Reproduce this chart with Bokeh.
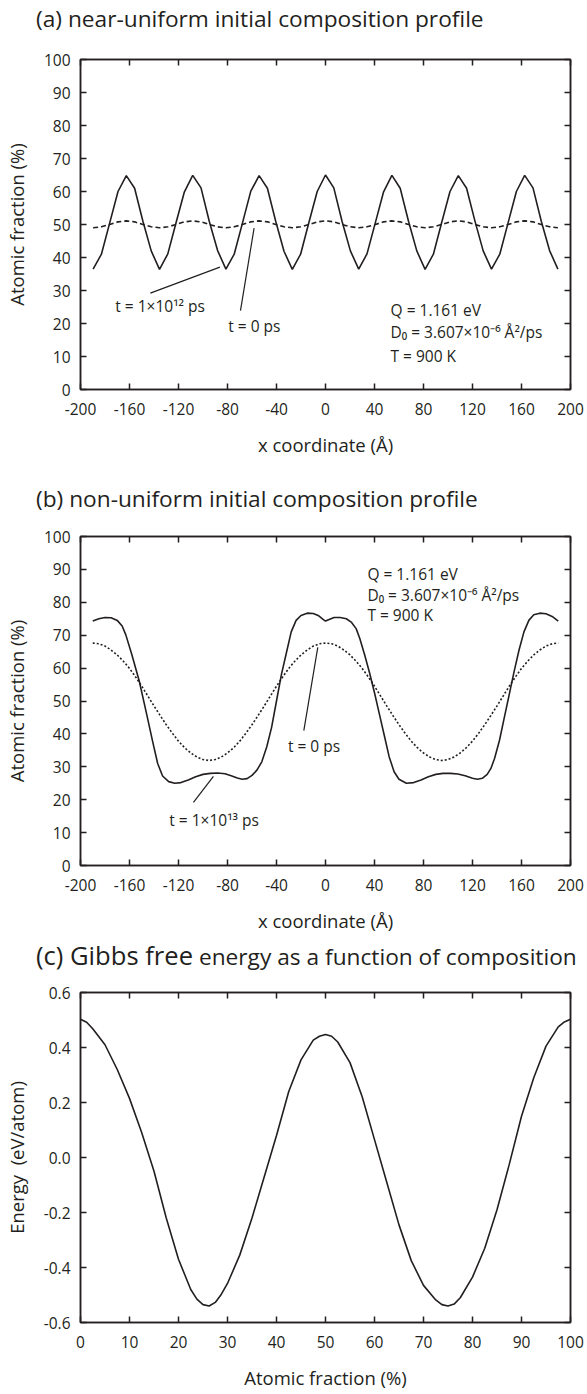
import numpy as np
from bokeh.plotting import figure
from bokeh.layouts import column
from bokeh.models import FixedTicker, LinearAxis, Label, PrintfTickFormatter, Range1d, Div
from bokeh.embed import file_html
from bokeh.resources import INLINE

INK = "#231f20"
FONT = "Open Sans"
W = 587

# ---------------- (a) near-uniform initial composition profile ----------------
x_a = np.linspace(-189.7, 189.7, 57)            # position grid (Å)
comp_a_late = [                                    # t = 1e12 ps (%)
    36.5, 41.0, 50.5, 60.0, 64.8, 61.0, 51.0, 42.0,
    36.4, 41.1, 50.6, 59.9, 64.9, 61.1, 50.9, 42.1,
    36.5, 41.0, 50.5, 60.1, 64.8, 61.0, 51.0, 41.9,
    36.4, 41.0, 50.6, 60.0, 65.0, 61.1, 50.9, 42.0,
    36.5, 41.1, 50.5, 59.9, 64.9, 61.0, 51.0, 42.0,
    36.4, 41.0, 50.6, 60.0, 64.8, 61.0, 51.1, 42.0,
    36.5, 41.0, 50.5, 60.0, 64.9, 61.1, 51.0, 42.1,
    36.5,
]
comp_a_init = [                                    # t = 0 ps (%)
    49.0, 49.3, 50.0, 50.8, 51.1, 50.8, 50.0, 49.3,
    49.0, 49.3, 50.0, 50.8, 51.1, 50.8, 50.0, 49.3,
    49.0, 49.3, 50.0, 50.8, 51.1, 50.8, 50.0, 49.3,
    49.0, 49.3, 50.0, 50.8, 51.1, 50.8, 50.0, 49.3,
    49.0, 49.3, 50.0, 50.8, 51.1, 50.8, 50.0, 49.3,
    49.0, 49.3, 50.0, 50.8, 51.1, 50.8, 50.0, 49.3,
    49.0, 49.3, 50.0, 50.8, 51.1, 50.8, 50.0, 49.3,
    49.0,
]

# ---------------- (b) non-uniform initial composition profile ----------------
x_b_late = [-190, -185, -180, -175, -170, -166, -163, -158, -152, -146,
            -141, -137, -133, -128, -123, -118, -112, -106, -100, -94,
            -88, -82, -77, -72, -68, -64, -60, -56, -52, -48,
            -44, -40, -36, -32, -28, -24, -20, -15, -10, -6,
            -2, 0, 3, 7, 12, 17, 21, 25, 28, 32,
            36, 40, 44, 48, 52, 56, 60, 66, 72, 78,
            84, 90, 96, 102, 108, 114, 120, 124, 128, 132,
            135, 138, 142, 146, 150, 154, 158, 162, 166, 170,
            175, 180, 185, 190]
comp_b_late = [74.3, 75.0, 75.4, 75.3, 74.5, 72.8, 70.1, 64.0, 56.0, 46.0,
               37.5, 31.0, 27.2, 25.5, 25.0, 25.2, 26.0, 27.0, 27.7, 28.0,
               28.1, 27.9, 27.3, 26.6, 26.2, 26.4, 27.4, 29.0, 31.5, 36.0,
               42.0, 50.0, 58.0, 64.5, 71.0, 74.5, 76.0, 76.7, 76.6, 76.0,
               74.8, 74.3, 74.8, 75.4, 75.4, 75.0, 74.0, 72.0, 69.0, 64.0,
               58.5, 52.5, 46.0, 39.5, 33.0, 28.5, 26.2, 25.0, 25.2, 26.0,
               27.0, 27.7, 28.0, 28.0, 27.8, 27.3, 26.5, 26.2, 26.5, 27.7,
               29.5, 32.5, 38.0, 45.0, 52.0, 59.0, 65.5, 71.0, 74.5, 76.2,
               76.7, 76.5, 75.7, 74.3]
x_b_init = list(range(-190, 191, 5))
comp_b_init = [67.6, 67.4, 66.7, 65.5, 64.0, 62.1, 59.9, 57.3, 54.5, 51.5,
               48.5, 45.6, 42.8, 40.2, 37.8, 35.8, 34.2, 33.0, 32.2, 31.9,
               32.2, 33.0, 34.2, 35.8, 37.8, 40.2, 42.8, 45.6, 48.5, 51.5,
               54.5, 57.3, 59.9, 62.1, 64.0, 65.5, 66.7, 67.4, 67.6, 67.4,
               66.7, 65.5, 64.0, 62.1, 59.9, 57.3, 54.5, 51.5, 48.5, 45.6,
               42.8, 40.2, 37.8, 35.8, 34.2, 33.0, 32.2, 31.9, 32.2, 33.0,
               34.2, 35.8, 37.8, 40.2, 42.8, 45.6, 48.5, 51.5, 54.5, 57.3,
               59.9, 62.1, 64.0, 65.5, 66.7, 67.4, 67.6]

# ---------------- (c) Gibbs free energy vs composition ----------------
frac_c = [0, 1.25, 2.5, 5, 7.5, 10, 12.5, 15, 17.5, 20,
          22.5, 23.75, 25, 26.25, 27.5, 28.75, 30, 32.5, 35, 37.5,
          40, 42.5, 45, 47.5, 48.75, 50, 51.25, 52.5, 55, 57.5,
          60, 62.5, 65, 67.5, 70, 72.5, 73.75, 75, 76.25, 77.5,
          80, 82.5, 85, 87.5, 90, 92.5, 95, 97.5, 98.75, 100]
energy_c = [0.503, 0.492, 0.468, 0.41, 0.32, 0.215, 0.09, -0.05, -0.22, -0.37,
            -0.48, -0.515, -0.535, -0.54, -0.527, -0.497, -0.458, -0.355, -0.22, -0.07,
            0.08, 0.24, 0.355, 0.427, 0.441, 0.447, 0.441, 0.42, 0.345, 0.22,
            0.065, -0.09, -0.245, -0.375, -0.465, -0.518, -0.535, -0.54, -0.533, -0.51,
            -0.435, -0.33, -0.19, -0.025, 0.15, 0.29, 0.405, 0.475, 0.493, 0.503]

ticks_x_ab = [-200, -160, -120, -80, -40, 0, 40, 80, 120, 160, 200]
ticks_y_ab = [0, 10, 20, 30, 40, 50, 60, 70, 80, 90, 100]
ticks_x_c = [0, 10, 20, 30, 40, 50, 60, 70, 80, 90, 100]
ticks_y_c = [-0.6, -0.4, -0.2, 0.0, 0.2, 0.4, 0.6]

TICK_SIZE = "15.5px"
AXIS_TITLE_SIZE = "18.5px"
NOTE_SIZE = "15.5px"


def style_axis(ax, show_labels):
    ax.axis_line_color = INK
    ax.axis_line_width = 1.5
    ax.major_tick_line_color = INK
    ax.major_tick_line_width = 1.5
    ax.major_tick_in = 6
    ax.major_tick_out = 0
    ax.minor_tick_line_color = None
    if show_labels:
        ax.major_label_text_font = FONT
        ax.major_label_text_font_size = TICK_SIZE
        ax.major_label_text_color = INK
        ax.axis_label_text_font = FONT
        ax.axis_label_text_font_size = AXIS_TITLE_SIZE
        ax.axis_label_text_font_style = "normal"
        ax.axis_label_text_color = INK
    else:
        # tick marks only on the opposite sides of the box
        ax.major_label_text_color = None
        ax.major_label_text_font_size = "0px"
        ax.major_label_standoff = 0


def heading(html, height, line_height):
    style = ("padding-left:36px; white-space:nowrap; font-family:'Open Sans'; "
             "font-size:22.7px; color:%s; line-height:%dpx;" % (INK, line_height))
    return Div(text='<div style="%s">%s</div>' % (style, html),
               width=W, height=height, margin=0)


def make_panel(height, borders, xr, yr, xt, yt, xfmt, yfmt, xlabel, ylabel):
    left, right, top, bottom = borders
    p = figure(width=W, height=height, x_range=Range1d(*xr), y_range=Range1d(*yr),
               output_backend="svg", toolbar_location=None,
               min_border_left=left, min_border_right=right,
               min_border_top=top, min_border_bottom=bottom,
               background_fill_color="white", border_fill_color="white")
    p.grid.visible = False
    p.outline_line_color = INK
    p.outline_line_width = 1.5

    xa, ya = p.xaxis[0], p.yaxis[0]
    xa.ticker = FixedTicker(ticks=xt, minor_ticks=[])
    ya.ticker = FixedTicker(ticks=yt, minor_ticks=[])
    xa.formatter = PrintfTickFormatter(format=xfmt)
    ya.formatter = PrintfTickFormatter(format=yfmt)
    xa.axis_label = xlabel
    ya.axis_label = ylabel
    style_axis(xa, True)
    style_axis(ya, True)
    xa.major_label_standoff = 13
    xa.axis_label_standoff = 14
    ya.major_label_standoff = 10
    ya.axis_label_standoff = 12

    top_ax = LinearAxis(ticker=FixedTicker(ticks=xt, minor_ticks=[]))
    right_ax = LinearAxis(ticker=FixedTicker(ticks=yt, minor_ticks=[]))
    style_axis(top_ax, False)
    style_axis(right_ax, False)
    p.add_layout(top_ax, "above")
    p.add_layout(right_ax, "right")
    return p


def note(p, x, y, text, size=NOTE_SIZE):
    p.add_layout(Label(x=x, y=y, text=text, text_font=FONT, text_font_size=size,
                       text_color=INK, text_baseline="middle", text_align="left"))


# ---- panel (a)
ha = heading("(a) near-uniform initial composition profile", 40, 38)

pa = make_panel(430, (78, 16, 19, 81), (-200, 200), (0, 100), ticks_x_ab, ticks_y_ab,
                "%d", "%d", "x coordinate (Å)", "Atomic fraction (%)")
pa.line(x_a, comp_a_late, line_color=INK, line_width=1.6)
pa.line(x_a, comp_a_init, line_color=INK, line_width=1.6, line_dash="5 3")
pa.segment(x0=[-143, -69.4], y0=[29.2, 23.9], x1=[-86.2, -58.3], y1=[37.1, 48.9],
           line_color=INK, line_width=1.2)
note(pa, -171.6, 25.2, "t = 1×10¹² ps")
note(pa, -79.4, 19.1, "t = 0 ps")
note(pa, 53.1, 24.2, "Q = 1.161 eV")
note(pa, 53.1, 17.4, "D₀ = 3.607×10⁻⁶ Å²/ps")
note(pa, 53.1, 10.3, "T = 900 K")

# ---- panel (b)
hb = heading("(b) non-uniform initial composition profile", 50, 58)

pb = make_panel(420, (78, 16, 16, 75), (-200, 200), (0, 100), ticks_x_ab, ticks_y_ab,
                "%d", "%d", "x coordinate (Å)", "Atomic fraction (%)")
pb.line(x_b_late, comp_b_late, line_color=INK, line_width=1.6)
pb.line(x_b_init, comp_b_init, line_color=INK, line_width=1.6, line_dash="2 2")
pb.segment(x0=[-17.7, -107.8], y0=[41.0, 19.2], x1=[-6.3, -91.5], y1=[66.3, 27.1],
           line_color=INK, line_width=1.2)
note(pb, -30.7, 36.4, "t = 0 ps")
note(pb, -127.5, 13.9, "t = 1×10¹³ ps")
note(pb, 34.2, 88.7, "Q = 1.161 eV")
note(pb, 34.2, 82.1, "D₀ = 3.607×10⁻⁶ Å²/ps")
note(pb, 34.2, 76.1, "T = 900 K")

# ---- panel (c)
hc = heading('<span style="font-size:25.6px">(c) Gibbs free</span> energy as a function of composition',
             35, 32)

pc = make_panel(419, (77, 17, 17, 72), (0, 100), (-0.6, 0.6), ticks_x_c, ticks_y_c,
                "%d", "%.1f", "Atomic fraction (%)", "Energy\u00a0 (eV/atom)")
pc.line(frac_c, energy_c, line_color=INK, line_width=1.6)

layout = column(ha, pa, hb, pb, hc, pc)
open("out.html", "w").write(file_html(layout, INLINE))
